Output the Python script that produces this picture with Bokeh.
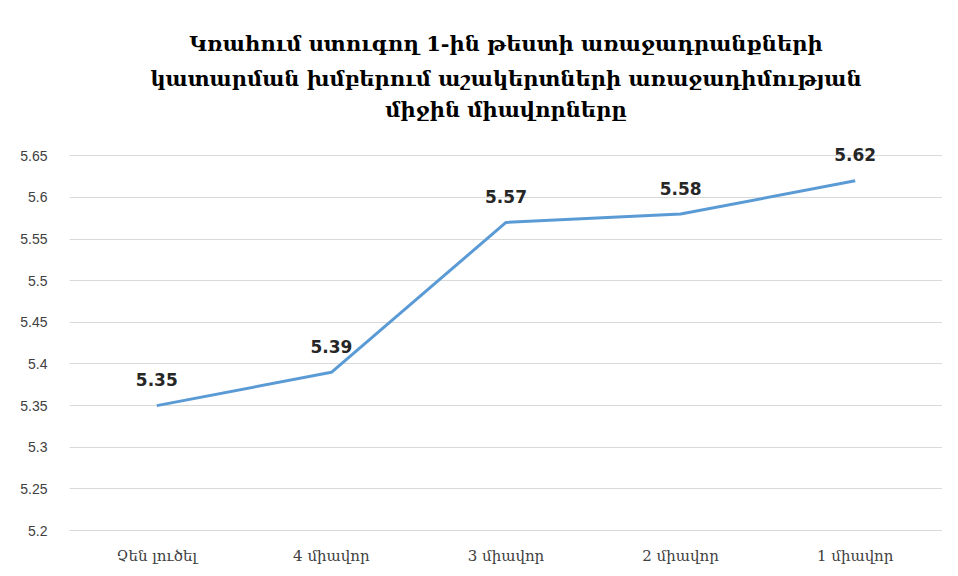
from bokeh.plotting import figure
from bokeh.models import Title, FactorRange, Range1d, ColumnDataSource, SingleIntervalTicker
from bokeh.core.properties import value
from bokeh.embed import file_html
from bokeh.resources import INLINE

categories = ["Չեն լուծել", "4 միավոր", "3 միավոր", "2 միավոր", "1 միավոր"]
scores = [5.35, 5.39, 5.57, 5.58, 5.62]
labels = ["5.35", "5.39", "5.57", "5.58", "5.62"]
title_lines = [
    "Կռահում ստուգող 1-ին թեստի առաջադրանքների",
    "կատարման խմբերում աշակերտների առաջադիմության",
    "միջին միավորները",
]

src = ColumnDataSource(dict(cat=categories, y=scores, lab=labels))

# y range extends a little above the top gridline (5.65) so the top data label is not clipped
p = figure(frame_width=873, frame_height=408, x_range=FactorRange(*categories, range_padding=0),
           y_range=Range1d(5.2, 5.69), output_backend="svg", toolbar_location=None,
           min_border_left=69, min_border_right=0, min_border_bottom=30, min_border_top=122)
p.title = None
standoffs = [8, 8, 1]
for t, s in reversed(list(zip(title_lines, standoffs))):
    p.add_layout(Title(text=t, align="center", text_font="DejaVu Serif", text_font_style="bold",
                       text_font_size="21px", text_color="#000000", standoff=s, offset=-35), "above")

p.line("cat", "y", source=src, line_color="#5B9BD5", line_width=3)
p.text("cat", "y", text="lab", source=src, text_font=value("DejaVu Sans"), text_font_style="bold",
       text_font_size="17px", text_color="#262626", text_align="center", text_baseline="alphabetic",
       y_offset=-26)

p.outline_line_color = None
p.xgrid.grid_line_color = None
p.ygrid.grid_line_color = "#D9D9D9"
p.yaxis.ticker = SingleIntervalTicker(interval=0.05)
p.yaxis.axis_line_color = None
p.yaxis.major_tick_line_color = None
p.yaxis.minor_tick_line_color = None
p.yaxis.major_label_text_font = "Liberation Sans"
p.yaxis.major_label_text_font_size = "14px"
p.yaxis.major_label_text_color = "#404040"
p.yaxis.major_label_standoff = 16
p.xaxis.axis_line_color = "#D9D9D9"
p.xaxis.major_tick_line_color = None
p.xaxis.major_label_text_font = "DejaVu Serif"
p.xaxis.major_label_text_font_size = "15px"
p.xaxis.major_label_text_color = "#404040"
p.xaxis.major_label_standoff = 10

open("out.html", "w").write(file_html(p, INLINE))
